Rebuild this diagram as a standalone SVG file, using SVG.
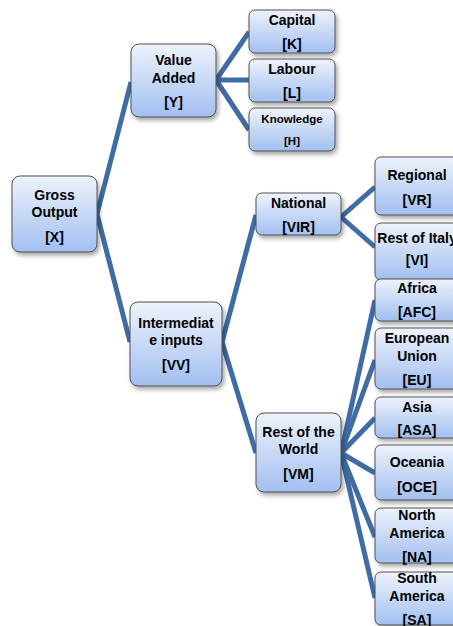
<svg xmlns="http://www.w3.org/2000/svg" width="453" height="626" viewBox="0 0 453 626">
<defs>
<linearGradient id="g" x1="0" y1="0" x2="0" y2="1">
<stop offset="0" stop-color="#eef3fc"/>
<stop offset="1" stop-color="#a2bff0"/>
</linearGradient>
<filter id="sh" x="-20%" y="-20%" width="150%" height="150%">
<feDropShadow dx="2" dy="3" stdDeviation="2" flood-color="#000" flood-opacity="0.35"/>
</filter>
</defs>
<style>
.box{fill:url(#g);stroke:#505050;stroke-width:1;filter:url(#sh)}
text{font-family:"Liberation Sans",Arial,sans-serif;font-weight:bold;font-size:14px;fill:#000;text-anchor:middle;dominant-baseline:central}
.sm{font-size:11.5px}
.c line{stroke:#3f6ca4;stroke-width:5;stroke-linecap:butt}
</style>
<rect width="453" height="626" fill="#fff"/>
<g class="c" id="connectors">
<line x1="97" y1="214" x2="131" y2="82"/>
<line x1="97" y1="214" x2="130" y2="342"/>
<line x1="216" y1="80" x2="249" y2="32"/>
<line x1="216" y1="80" x2="249" y2="80"/>
<line x1="216" y1="80" x2="249" y2="130"/>
<line x1="222" y1="342" x2="256" y2="215"/>
<line x1="222" y1="342" x2="256" y2="453"/>
<line x1="341" y1="217" x2="375" y2="187"/>
<line x1="341" y1="217" x2="375" y2="247"/>
<line x1="341" y1="453" x2="375" y2="300"/>
<line x1="341" y1="453" x2="375" y2="360"/>
<line x1="341" y1="453" x2="375" y2="418"/>
<line x1="341" y1="453" x2="375" y2="473"/>
<line x1="341" y1="453" x2="375" y2="537"/>
<line x1="341" y1="453" x2="375" y2="598"/>
</g>
<g id="X"><rect class="box" x="12" y="176" width="85" height="76" rx="8"/><text x="54.5" y="195">Gross</text><text x="54.5" y="212">Output</text><text x="54.5" y="237">[X]</text></g>
<g id="Y"><rect class="box" x="131" y="44" width="85" height="73" rx="8"/><text x="173.5" y="60">Value</text><text x="173.5" y="78">Added</text><text x="173.5" y="102">[Y]</text></g>
<g id="K"><rect class="box" x="249" y="10" width="86" height="43" rx="6"/><text x="292" y="20">Capital</text><text x="292" y="44">[K]</text></g>
<g id="L"><rect class="box" x="249" y="59" width="86" height="43" rx="6"/><text x="292" y="69">Labour</text><text x="292" y="93">[L]</text></g>
<g id="H"><rect class="box" x="249" y="108" width="86" height="43" rx="6"/><text class="sm" x="292" y="119">Knowledge</text><text class="sm" x="292" y="141">[H]</text></g>
<g id="VV"><rect class="box" x="130" y="302" width="92" height="84" rx="8"/><text x="176" y="323">Intermediat</text><text x="176" y="340">e inputs</text><text x="176" y="365">[VV]</text></g>
<g id="VIR"><rect class="box" x="256" y="193" width="85" height="42" rx="6"/><text x="298.5" y="203">National</text><text x="298.5" y="227">[VIR]</text></g>
<g id="VR"><rect class="box" x="375" y="157" width="84" height="58" rx="6"/><text x="417" y="175">Regional</text><text x="417" y="200">[VR]</text></g>
<g id="VI"><rect class="box" x="375" y="223" width="84" height="57" rx="6"/><text x="417" y="238">Rest of Italy</text><text x="417" y="260">[VI]</text></g>
<g id="VM"><rect class="box" x="256" y="413" width="85" height="79" rx="8"/><text x="298.5" y="432">Rest of the</text><text x="298.5" y="449">World</text><text x="298.5" y="474">[VM]</text></g>
<g id="AFC"><rect class="box" x="375" y="279" width="84" height="42" rx="6"/><text x="417" y="288">Africa</text><text x="417" y="312">[AFC]</text></g>
<g id="EU"><rect class="box" x="375" y="328" width="84" height="61" rx="6"/><text x="417" y="338">European</text><text x="417" y="356">Union</text><text x="417" y="380">[EU]</text></g>
<g id="ASA"><rect class="box" x="375" y="397" width="84" height="41" rx="6"/><text x="417" y="407">Asia</text><text x="417" y="430">[ASA]</text></g>
<g id="OCE"><rect class="box" x="375" y="445" width="84" height="55" rx="6"/><text x="417" y="462">Oceania</text><text x="417" y="487">[OCE]</text></g>
<g id="NA"><rect class="box" x="375" y="508" width="84" height="55" rx="6"/><text x="417" y="515">North</text><text x="417" y="533">America</text><text x="417" y="557">[NA]</text></g>
<g id="SA"><rect class="box" x="375" y="572" width="84" height="53" rx="6"/><text x="417" y="578">South</text><text x="417" y="596">America</text><text x="417" y="620">[SA]</text></g>
</svg>
